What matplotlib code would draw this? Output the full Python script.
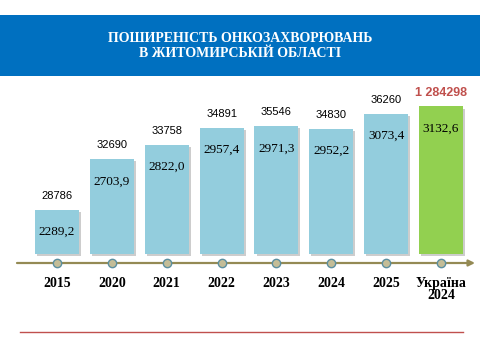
"""
Поширеність онкозахворювань в Житомирській області
"""

import matplotlib
matplotlib.use('Agg')
import matplotlib.pyplot as plt
import matplotlib.patheffects as pe
from matplotlib.patches import Rectangle

# Дані
years = ['2015', '2020', '2021', '2022', '2023', '2024', '2025', 'Україна\n2024']
rates = [2289.2, 2703.9, 2822.0, 2957.4, 2971.3, 2952.2, 3073.4, 3132.6]
counts = ['28786', '32690', '33758', '34891', '35546', '34830', '36260', '1 284298']

BASE = 1930  # нижня межа стовпчиків (вісь обрізана)

COLOR_BAR = '#93CDDD'
COLOR_UA = '#92D050'
COLOR_HEAD = '#0070C0'
SERIF = 'Liberation Serif'
SANS = 'Liberation Sans'

fig = plt.figure(figsize=(4.8, 3.6), dpi=100)

# ---- фон: шапка, вісь-стрілка, червона лінія (піксельні координати)
bg = fig.add_axes([0, 0, 1, 1])
bg.set_xlim(0, 480)
bg.set_ylim(360, 0)
bg.axis('off')

bg.add_patch(Rectangle((0, 15), 480, 61, color=COLOR_HEAD, lw=0))
bg.text(240, 46, 'ПОШИРЕНІСТЬ ОНКОЗАХВОРЮВАНЬ\nВ ЖИТОМИРСЬКІЙ ОБЛАСТІ',
        ha='center', va='center', color='white', fontsize=10,
        fontweight='bold', family=SERIF, linespacing=1.15)

bg.annotate('', xy=(475, 263), xytext=(17, 263),
            arrowprops=dict(arrowstyle='-|>', color='#948A54', lw=1.6,
                            mutation_scale=9, shrinkA=0, shrinkB=0))
bg.plot([20, 463], [332, 332], color='#C0504D', lw=1)

# ---- стовпчики
ax = fig.add_axes([0, (360 - 263) / 360, 1, 183 / 360])
ax.patch.set_alpha(0)
ax.axis('off')
ax.set_xlim(-1.039, 7.711)
ax.set_ylim(1857, 3348)

x = list(range(len(years)))
colors = [COLOR_BAR] * (len(years) - 1) + [COLOR_UA]
heights = [r - BASE for r in rates]
bars = ax.bar(x, heights, bottom=BASE, width=0.80, color=colors, zorder=2)
for b in bars:
    b.set_path_effects([pe.SimplePatchShadow(offset=(1.5, -1.5),
                                             shadow_rgbFace='#909090', alpha=0.45),
                        pe.Normal()])

# маркери на осі
ax.plot(x, [0] * len(x), 'o', transform=ax.get_xaxis_transform(),
        ms=6, mfc='#C4BD97', mec='#5B8FA0', mew=1, clip_on=False, zorder=5)

for i, (r, c, yr) in enumerate(zip(rates, counts, years)):
    # показник на 100 тис.
    ax.annotate(f'{r:.1f}'.replace('.', ','), xy=(i, r), xytext=(0, -16),
                textcoords='offset points', ha='center', va='center',
                family=SERIF, fontsize=9.5, color='black')
    # абсолютна кількість
    last = i == len(years) - 1
    ax.annotate(c, xy=(i, r), xytext=(0, 10),
                textcoords='offset points', ha='center', va='center',
                family=SANS, fontsize=9 if last else 8,
                color='#C0504D' if last else 'black',
                fontweight='bold' if last else 'normal')
    # підписи років
    ax.text(i, -0.075, yr, transform=ax.get_xaxis_transform(),
            ha='center', va='top', family=SERIF, fontweight='bold',
            fontsize=10, linespacing=0.95)

plt.savefig('out.png', dpi=100)
plt.close()
